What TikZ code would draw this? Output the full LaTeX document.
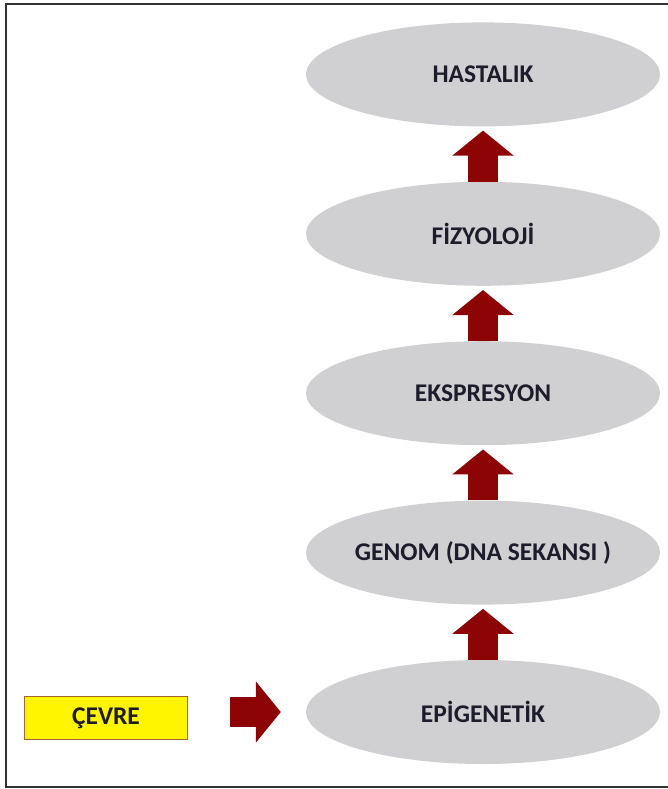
\documentclass[tikz,border=0pt]{standalone}
\usepackage{fontspec}
\setmainfont{Carlito}
\usetikzlibrary{positioning}
\usetikzlibrary{arrows.meta}
\usetikzlibrary{shapes.geometric}

\definecolor{ovalgray}{RGB}{208,208,211}
\definecolor{arrowred}{RGB}{140,4,4}
\definecolor{boxyellow}{RGB}{255,245,0}
\definecolor{boxedge}{RGB}{170,100,45}
\definecolor{inkdark}{RGB}{28,28,42}

\tikzset{
  stage/.style = {ellipse, fill=ovalgray, minimum width=354pt, minimum height=104pt,
                  inner sep=0pt, text=inkdark, font=\fontsize{25.5}{29}\selectfont\bfseries},
  envbox/.style = {rectangle, fill=boxyellow, draw=boxedge, line width=1.8pt,
                   minimum width=163pt, minimum height=43pt, inner sep=0pt,
                   text=inkdark, font=\fontsize{25.5}{29}\selectfont\bfseries},
  blockarrow/.style = {draw=arrowred, line width=30pt,
                       -{Triangle[width=60pt,length=25pt,fill=arrowred]}}
}

\begin{document}
\begin{tikzpicture}[x=1pt, y=-1pt, node distance=55pt]

      \useasboundingbox (0,0) rectangle (667,789);
      \draw[line width=1.3pt, draw=black!80] (6,4) rectangle (700,787);

      % steps, bottom to top
      \node[stage] (epi) at (483,712) {EPİGENETİK};
      \node[stage, inner xsep=-8pt, above=of epi] (genom) {GENOM (DNA SEKANSI )};
      \node[stage, above=of genom] (expr) {EKSPRESYON};
      \node[stage, above=of expr] (fizy) {FİZYOLOJİ};
      \node[stage, above=of fizy] (hast) {HASTALIK};

      \node[envbox] (cevre) at (106,718) {ÇEVRE};

      \draw[blockarrow, shorten >=4pt] (epi.north) -- (genom.south);
      \draw[blockarrow, shorten >=4pt] (genom.north) -- (expr.south);
      \draw[blockarrow, shorten >=4pt] (expr.north) -- (fizy.south);
      \draw[blockarrow, shorten >=4pt] (fizy.north) -- (hast.south);

      \draw[blockarrow, shorten <=42pt, shorten >=25pt] (cevre.east |- epi.west) -- (epi.west);

\end{tikzpicture}
\end{document}
